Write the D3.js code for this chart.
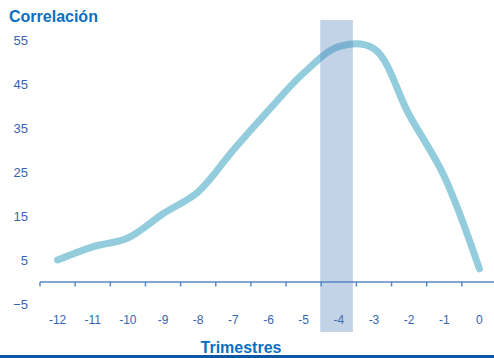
<!DOCTYPE html>
<html>
<head>
<meta charset="utf-8">
<script src="https://cdn.jsdelivr.net/npm/d3@7"></script>
<style>
  html, body { margin: 0; padding: 0; background: #fff; }
  svg { display: block; }
</style>
</head>
<body>
<svg id="chart" width="494" height="358"></svg>
<script>
// Quarters relative to the event, and correlation per quarter
const quarters = ["-12", "-11", "-10", "-9", "-8", "-7", "-6", "-5", "-4", "-3", "-2", "-1", "0"];
const correlation = [5, 8, 10, 15.5, 20.5, 30, 39, 47.5, 53.5, 53, 38, 24, 3];
const yTicks = [-5, 5, 15, 25, 35, 45, 55];
const highlighted = "-4";

const W = 494, H = 358;
const svg = d3.select("#chart");

const x = d3.scaleBand().domain(quarters).range([40, 497]);
const y = d3.scaleLinear().domain([0, 55]).range([282, 40]);

// Title of the value axis
svg.append("text")
  .attr("x", 9).attr("y", 22)
  .attr("font-family", "Liberation Sans, Arial, sans-serif")
  .attr("font-weight", "bold").attr("font-size", 16)
  .attr("fill", "#0A6FC2")
  .text("Correlación");

// Value labels (no axis line)
const yAxis = d3.axisLeft(y).tickValues(yTicks).tickSize(0).tickPadding(0);
const yg = svg.append("g").attr("transform", "translate(28,0)").call(yAxis);
yg.select(".domain").remove();
yg.selectAll("text")
  .attr("font-family", "Liberation Sans, Arial, sans-serif")
  .attr("font-size", 13)
  .attr("fill", "#3465B0");

// Category axis at zero, ticks on the band boundaries
const xg = svg.append("g").attr("transform", `translate(0,${y(0)})`);
xg.append("line")
  .attr("x1", x.range()[0]).attr("x2", W)
  .attr("stroke", "#5B86C4").attr("stroke-width", 1.5);
xg.selectAll("line.tick")
  .data(quarters.map(q => x(q)))
  .join("line").attr("class", "tick")
  .attr("x1", d => d).attr("x2", d => d)
  .attr("y1", 0).attr("y2", 4.5)
  .attr("stroke", "#5B86C4").attr("stroke-width", 1.5);
xg.selectAll("text")
  .data(quarters)
  .join("text")
  .attr("x", d => x(d) + x.bandwidth() / 2)
  .attr("y", 42)
  .attr("text-anchor", "middle")
  .attr("font-family", "Liberation Sans, Arial, sans-serif")
  .attr("font-size", 12)
  .attr("fill", "#3465B0")
  .text(d => d);

// Correlation curve
const line = d3.line()
  .x((d, i) => x(quarters[i]) + x.bandwidth() / 2)
  .y(d => y(d))
  .curve(d3.curveCatmullRom.alpha(0.5));
svg.append("path")
  .datum(correlation)
  .attr("d", line)
  .attr("fill", "none")
  .attr("stroke", "#93CDDD")
  .attr("stroke-width", 7)
  .attr("stroke-linecap", "round")
  .attr("stroke-linejoin", "round");

// Highlighted quarter, drawn translucent over the curve
svg.append("rect")
  .attr("x", x(highlighted) - 1)
  .attr("y", 20)
  .attr("width", x.bandwidth() - 2.5)
  .attr("height", 312)
  .attr("fill", "#4F81BD")
  .attr("fill-opacity", 0.35);

// Category axis title
svg.append("text")
  .attr("x", 241).attr("y", 353)
  .attr("text-anchor", "middle")
  .attr("font-family", "Liberation Sans, Arial, sans-serif")
  .attr("font-weight", "bold").attr("font-size", 16)
  .attr("fill", "#0A6FC2")
  .text("Trimestres");

// Bottom rule
svg.append("rect")
  .attr("x", 0).attr("y", 355)
  .attr("width", W).attr("height", 3)
  .attr("fill", "#0C56A4");
</script>
</body>
</html>
